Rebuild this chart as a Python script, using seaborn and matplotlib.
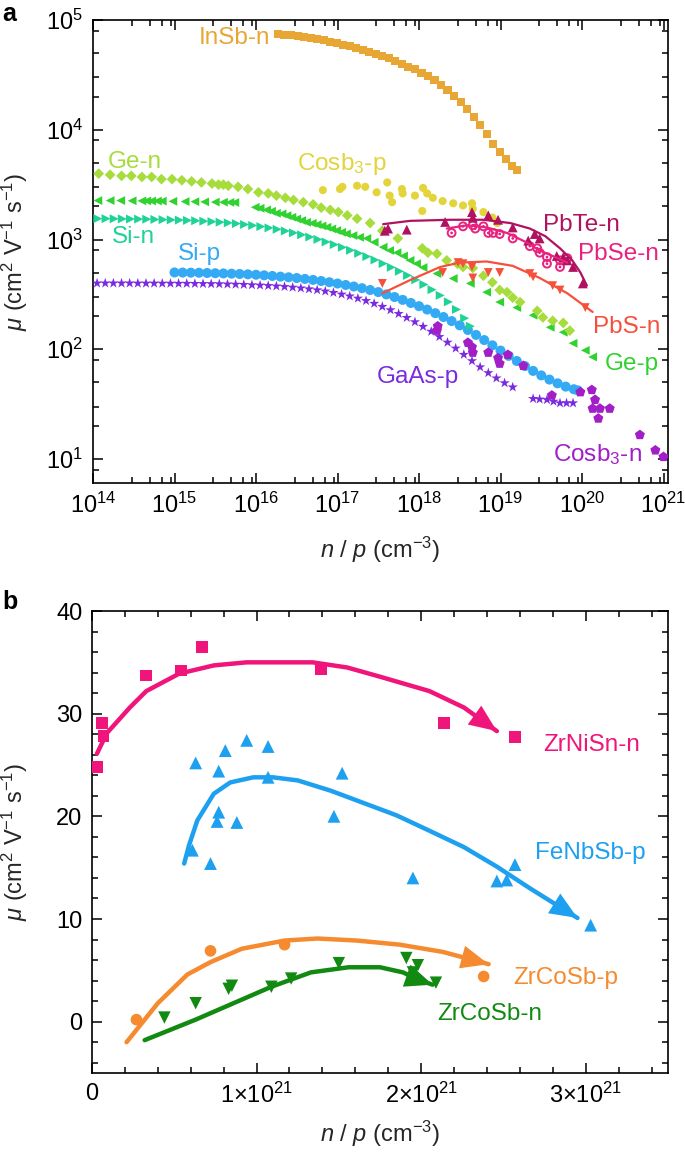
import numpy as np
import matplotlib
matplotlib.use("Agg")
import matplotlib.pyplot as plt
import seaborn as sns
from matplotlib.ticker import LogLocator, FixedLocator, MultipleLocator, FuncFormatter, NullFormatter

# ---------------- Panel a data (log10 n, log10 mu) ----------------
insb_logn = [16.27, 16.35, 16.43, 16.51, 16.59, 16.67, 16.75, 16.83, 16.91, 16.99, 17.07, 17.15, 17.23,
             17.31, 17.39, 17.47, 17.55, 17.63, 17.71, 17.79, 17.87, 17.95, 18.03, 18.11, 18.19, 18.27,
             18.35, 18.43, 18.51, 18.59, 18.67, 18.75, 18.83, 18.91, 18.99, 19.07, 19.14, 19.20]
insb_logmu = [4.870, 4.865, 4.860, 4.855, 4.845, 4.835, 4.825, 4.815, 4.800, 4.790, 4.775, 4.760, 4.745,
              4.730, 4.710, 4.690, 4.670, 4.650, 4.630, 4.600, 4.575, 4.550, 4.520, 4.490, 4.450, 4.410,
              4.360, 4.310, 4.250, 4.190, 4.120, 4.040, 3.960, 3.870, 3.800, 3.730, 3.670, 3.630]

gen_logn = [14.07, 14.21, 14.35, 14.47, 14.60, 14.72, 14.84, 14.97, 15.09, 15.21,
            15.33, 15.46, 15.54, 15.60, 15.66, 15.78, 15.90, 16.03, 16.15, 16.25,
            16.36, 16.46, 16.58, 16.70, 16.80, 16.91, 17.01, 17.12, 17.24, 17.40,
            17.55, 17.74, 18.04, 18.11, 18.22, 18.34, 18.47, 18.54, 18.66, 18.79,
            18.90, 18.99, 19.08, 19.15, 19.24, 19.45, 19.52, 19.64, 19.77, 19.85]
gen_logmu = [3.60, 3.59, 3.58, 3.58, 3.57, 3.57, 3.55, 3.55, 3.54, 3.53,
             3.52, 3.51, 3.50, 3.50, 3.49, 3.48, 3.46, 3.43, 3.42, 3.40,
             3.38, 3.36, 3.34, 3.32, 3.29, 3.27, 3.25, 3.22, 3.19, 3.15,
             3.08, 3.01, 2.92, 2.88, 2.87, 2.81, 2.78, 2.75, 2.74, 2.67,
             2.61, 2.54, 2.52, 2.47, 2.43, 2.35, 2.29, 2.26, 2.24, 2.17]

gep_logn = [14.06, 14.21, 14.34, 14.48, 14.60, 14.66, 14.72, 14.79, 14.85, 14.98, 15.13, 15.25, 15.37,
            15.50, 15.60, 15.68, 15.74,
            15.99, 16.05, 16.13, 16.19, 16.25, 16.32, 16.38, 16.44, 16.50, 16.56, 16.62, 16.69, 16.75,
            16.81, 16.87, 16.93, 16.99, 17.05, 17.11,
            17.19, 17.27, 17.36, 17.45, 17.56, 17.64, 17.73, 17.81, 17.89, 17.97, 18.05, 18.22, 18.42,
            18.63, 18.83, 18.99, 19.20, 19.40, 19.61, 19.77, 19.89, 20.04, 20.13]
gep_logmu = [3.355, 3.355, 3.355, 3.353, 3.352, 3.352, 3.351, 3.351, 3.350, 3.348, 3.346, 3.345, 3.343,
             3.341, 3.340, 3.338, 3.337,
             3.294, 3.285, 3.270, 3.257, 3.239, 3.234, 3.218, 3.203, 3.188, 3.173, 3.157, 3.148, 3.136,
             3.124, 3.112, 3.097, 3.082, 3.066, 3.052,
             3.036, 3.020, 3.010, 2.975, 2.930, 2.900, 2.880, 2.850, 2.810, 2.780, 2.745, 2.690, 2.645,
             2.600, 2.520, 2.430, 2.380, 2.310, 2.200, 2.155, 2.055, 1.990, 1.930]

sin_logn = [14.06, 14.16, 14.26, 14.36, 14.46, 14.56, 14.66, 14.76, 14.86, 14.96, 15.06, 15.16, 15.26,
            15.36, 15.46, 15.56, 15.66, 15.76, 15.86, 15.96, 16.06, 16.16, 16.26, 16.36, 16.46, 16.56,
            16.66, 16.76, 16.86, 16.96, 17.06, 17.16, 17.26, 17.36, 17.46, 17.56, 17.66, 17.76, 17.86,
            17.96, 18.06, 18.16, 18.26, 18.36, 18.46, 18.56, 18.63]
sin_logmu = [3.190, 3.190, 3.189, 3.188, 3.187, 3.186, 3.185, 3.183, 3.181, 3.179, 3.177, 3.174, 3.171,
             3.167, 3.163, 3.158, 3.152, 3.145, 3.137, 3.128, 3.118, 3.106, 3.093, 3.078, 3.061, 3.043,
             3.023, 3.001, 2.978, 2.954, 2.929, 2.902, 2.874, 2.845, 2.814, 2.781, 2.747, 2.711, 2.673,
             2.633, 2.590, 2.543, 2.491, 2.432, 2.363, 2.283, 2.210]

sip_logn = [15.0, 15.1, 15.2, 15.3, 15.4, 15.5, 15.6, 15.7, 15.8, 15.9, 16.0, 16.1, 16.2, 16.3, 16.4,
            16.5, 16.6, 16.7, 16.8, 16.9, 17.0, 17.1, 17.2, 17.3, 17.4, 17.5, 17.6, 17.7, 17.8, 17.9,
            18.0, 18.1, 18.2, 18.3, 18.4, 18.5, 18.6, 18.7, 18.8, 18.9, 19.0, 19.1, 19.2, 19.3, 19.4,
            19.5, 19.6, 19.7, 19.8, 19.9, 19.95]
sip_logmu = [2.700, 2.699, 2.698, 2.697, 2.695, 2.693, 2.691, 2.689, 2.686, 2.683, 2.679, 2.674, 2.668,
             2.662, 2.656, 2.649, 2.641, 2.632, 2.622, 2.611, 2.599, 2.586, 2.572, 2.557, 2.540, 2.521,
             2.500, 2.476, 2.450, 2.422, 2.393, 2.362, 2.329, 2.294, 2.257, 2.218, 2.176, 2.131, 2.084,
             2.036, 1.988, 1.940, 1.893, 1.847, 1.803, 1.762, 1.724, 1.690, 1.660, 1.636, 1.625]

gaas_logn = [14.05, 14.15, 14.25, 14.35, 14.45, 14.55, 14.65, 14.75, 14.85, 14.95, 15.05, 15.15, 15.25,
             15.35, 15.45, 15.55, 15.65, 15.75, 15.85, 15.95, 16.05, 16.15, 16.25, 16.35, 16.45, 16.55,
             16.65, 16.75, 16.85, 16.95, 17.05, 17.15, 17.25, 17.35, 17.45, 17.55, 17.65, 17.75, 17.85,
             17.95, 18.05, 18.15, 18.25, 18.35, 18.45, 18.55, 18.65, 18.75, 18.85, 18.95, 19.05, 19.15,
             19.40, 19.48, 19.57, 19.65, 19.73, 19.81, 19.89]
gaas_logmu = [2.602, 2.602, 2.602, 2.602, 2.602, 2.601, 2.601, 2.601, 2.600, 2.600, 2.599, 2.599, 2.598,
              2.597, 2.596, 2.595, 2.593, 2.591, 2.589, 2.586, 2.583, 2.579, 2.575, 2.570, 2.564, 2.557,
              2.549, 2.540, 2.529, 2.516, 2.501, 2.484, 2.464, 2.442, 2.417, 2.389, 2.358, 2.324, 2.288,
              2.249, 2.207, 2.162, 2.114, 2.063, 2.009, 1.952, 1.894, 1.838, 1.785, 1.737, 1.693, 1.655,
              1.550, 1.545, 1.540, 1.525, 1.510, 1.510, 1.510]

cosbp_logn = [16.82, 17.03, 17.06, 17.24, 17.34, 17.48, 17.61, 17.64, 17.67, 17.79, 17.80, 17.95,
              18.04, 18.05, 18.10, 18.17, 18.29, 18.42, 18.54, 18.65, 18.66, 18.79, 18.90, 18.96]
cosbp_logmu = [3.45, 3.46, 3.48, 3.49, 3.48, 3.43, 3.52, 3.40, 3.34, 3.46, 3.42, 3.40,
               3.26, 3.47, 3.42, 3.38, 3.35, 3.33, 3.31, 3.33, 3.28, 3.25, 3.20, 3.15]

pbte_logn = [17.58, 17.62, 17.85, 18.32, 18.65, 18.66, 18.85, 18.97, 19.15, 19.34, 19.42, 19.48,
             19.69, 19.77, 19.82, 19.89, 20.01]
pbte_logmu = [3.08, 3.10, 3.09, 3.16, 3.25, 3.20, 3.22, 3.18, 3.11, 2.99, 3.05, 3.01,
              2.85, 2.84, 2.81, 2.75, 2.60]
pbte_fit_logn = [17.56, 17.89, 18.38, 18.79, 19.12, 19.36, 19.55, 19.73, 19.88, 19.98, 20.06]
pbte_fit_logmu = [3.14, 3.17, 3.18, 3.18, 3.15, 3.10, 3.03, 2.92, 2.81, 2.70, 2.58]

pbse_logn = [18.40, 18.54, 18.66, 18.69, 18.79, 18.85, 18.91, 18.99, 19.15, 19.36, 19.45, 19.48,
             19.57, 19.57, 19.73, 19.73, 19.82]
pbse_logmu = [3.06, 3.12, 3.13, 3.10, 3.12, 3.06, 3.06, 3.05, 3.01, 2.94, 2.92, 2.88,
              2.84, 2.78, 2.81, 2.75, 2.83]
pbse_fit_logn = [18.34, 18.59, 18.83, 19.08, 19.33, 19.48, 19.64, 19.82]
pbse_fit_logmu = [3.10, 3.13, 3.11, 3.06, 2.97, 2.90, 2.85, 2.79]

pbs_logn = [17.55, 18.29, 18.48, 18.54, 18.65, 18.66, 18.85, 18.99, 19.36, 19.40, 19.64, 19.73, 20.04]
pbs_logmu = [2.60, 2.70, 2.79, 2.78, 2.75, 2.65, 2.70, 2.70, 2.69, 2.66, 2.58, 2.54, 2.38]
pbs_fit_logn = [17.55, 17.89, 18.26, 18.50, 18.83, 19.15, 19.48, 19.82, 20.13]
pbs_fit_logmu = [2.51, 2.63, 2.75, 2.79, 2.80, 2.76, 2.65, 2.51, 2.34]

cosbn_logn = [18.22, 18.23, 18.60, 18.65, 18.66, 18.85, 18.97, 18.99, 19.09, 19.28, 19.63, 19.98,
              20.12, 20.16, 20.13, 20.22, 20.34, 20.20, 20.71, 20.90, 21.00]
cosbn_logmu = [2.17, 2.21, 2.06, 2.02, 1.97, 1.97, 1.92, 1.87, 1.95, 1.85, 1.58, 1.61,
               1.63, 1.54, 1.46, 1.46, 1.46, 1.37, 1.22, 1.08, 1.02]

# ---------------- Panel b data (n in 1e21 cm^-3, mu) ----------------
zrnisn_n = [0.03, 0.06, 0.07, 0.33, 0.54, 0.67, 1.39, 2.14, 2.57]
zrnisn_mu = [24.8, 29.1, 27.8, 33.7, 34.2, 36.5, 34.3, 29.1, 27.7]
zrnisn_fit_n = [0.03, 0.09, 0.23, 0.33, 0.53, 0.74, 0.94, 1.10, 1.34, 1.55, 1.75, 2.05, 2.26, 2.46]
zrnisn_fit_mu = [26.1, 28.1, 30.6, 32.2, 33.9, 34.7, 35.0, 35.0, 35.0, 34.5, 33.6, 32.2, 30.6, 28.3]

fenbsb_n = [0.61, 0.72, 0.63, 0.77, 0.81, 0.94, 1.07, 1.07, 0.77, 0.76, 0.88, 1.47, 1.52, 1.95,
            2.46, 2.52, 2.57, 3.03]
fenbsb_mu = [16.7, 15.4, 25.2, 24.4, 26.4, 27.4, 26.8, 23.8, 20.4, 19.5, 19.4, 20.0, 24.2, 14.0,
             13.7, 13.8, 15.3, 9.4]
fenbsb_fit_n = [0.56, 0.59, 0.64, 0.74, 0.84, 0.98, 1.10, 1.25, 1.45, 1.65, 1.85, 2.05, 2.26, 2.46,
                2.66, 2.95]
fenbsb_fit_mu = [15.4, 17.2, 19.6, 22.2, 23.3, 23.8, 23.8, 23.5, 22.5, 21.3, 20.1, 18.6, 17.0, 15.1,
                 13.0, 10.1]

zrcosbp_n = [0.27, 0.72, 1.17, 2.38]
zrcosbp_mu = [0.2, 6.9, 7.5, 4.4]
zrcosbp_fit_n = [0.21, 0.40, 0.58, 0.72, 0.91, 1.17, 1.37, 1.61, 1.87, 2.13, 2.41]
zrcosbp_fit_mu = [-2.0, 1.8, 4.6, 5.8, 7.1, 7.9, 8.1, 7.9, 7.5, 6.8, 5.6]

zrcosbn_n = [0.44, 0.63, 0.83, 0.85, 1.09, 1.21, 1.50, 1.91, 1.98, 1.95, 2.09]
zrcosbn_mu = [0.4, 1.8, 3.2, 3.5, 3.4, 4.2, 5.7, 6.2, 5.5, 4.8, 3.8]
zrcosbn_fit_n = [0.32, 0.63, 0.86, 1.09, 1.33, 1.56, 1.75, 1.89, 1.98, 2.07]
zrcosbn_fit_mu = [-1.8, 0.2, 1.8, 3.4, 4.8, 5.3, 5.3, 4.8, 4.1, 3.6]

a_xticks = [1e14, 1e15, 1e16, 1e17, 1e18, 1e19, 1e20, 1e21]
b_xticks = [0, 1, 2, 3]
b_yticks = [0, 10, 20, 30, 40]

# ---------------- colours ----------------
C_INSB = "#E8A634"
C_GEN = "#A6DC3C"
C_GEP = "#2FD22F"
C_SIN = "#1FD394"
C_SIP = "#34A9F4"
C_GAAS = "#7A2BE0"
C_COSBP = "#E3D43C"
C_PBTE = "#B0125F"
C_PBSE = "#E8227E"
C_PBS = "#F5503C"
C_COSBN = "#A21FC8"
C_ZRNISN = "#F0157A"
C_FENBSB = "#1EA0F0"
C_ZRCOSBP = "#F58A2E"
C_ZRCOSBN = "#128A12"

sns.set_theme(style="ticks")
plt.rcParams.update({
    "font.family": ["Liberation Sans", "DejaVu Sans"],
    "mathtext.fontset": "custom",
    "mathtext.rm": "Liberation Sans",
    "mathtext.it": "Liberation Sans:italic",
    "mathtext.bf": "Liberation Sans:bold",
    "axes.edgecolor": "black",
    "axes.linewidth": 1.2,
    "text.color": "black",
    "xtick.color": "black",
    "ytick.color": "black",
})

TICK_FS = 17
LAB_FS = 17
ANN_FS = 17.5

fig = plt.figure(figsize=(6.85, 11.54), dpi=100)
axa = fig.add_axes([93 / 685, 1 - 483 / 1154, 575 / 685, 463 / 1154])
axb = fig.add_axes([92 / 685, 1 - 1073 / 1154, 576 / 685, 462 / 1154])

axa.set_xscale("log")
axa.set_yscale("log")


def pts_log(ax, lx, ly, marker, color, s, **kw):
    x = np.power(10.0, np.array(lx))
    y = np.power(10.0, np.array(ly))
    kw.setdefault("edgecolor", "none")
    kw.setdefault("linewidth", 0)
    sns.scatterplot(x=x, y=y, ax=ax, marker=marker, s=s, color=color, legend=False, zorder=3, **kw)


def line_log(ax, lx, ly, color, lw=1.6):
    x = np.power(10.0, np.array(lx))
    y = np.power(10.0, np.array(ly))
    sns.lineplot(x=x, y=y, ax=ax, color=color, lw=lw, sort=False, estimator=None, zorder=4)


# panel a series
pts_log(axa, gaas_logn, gaas_logmu, "*", C_GAAS, 60)
pts_log(axa, sip_logn, sip_logmu, "o", C_SIP, 52)
pts_log(axa, sin_logn, sin_logmu, ">", C_SIN, 42)
pts_log(axa, gep_logn, gep_logmu, "<", C_GEP, 40)
pts_log(axa, gen_logn, gen_logmu, "D", C_GEN, 30)
pts_log(axa, cosbp_logn, cosbp_logmu, "o", C_COSBP, 34)
pts_log(axa, cosbn_logn, cosbn_logmu, "p", C_COSBN, 58)
line_log(axa, pbs_fit_logn, pbs_fit_logmu, C_PBS)
pts_log(axa, pbs_logn, pbs_logmu, "v", C_PBS, 40)
line_log(axa, pbse_fit_logn, pbse_fit_logmu, C_PBSE)
pts_log(axa, pbse_logn, pbse_logmu, "o", C_PBSE, 32, facecolors="none", edgecolor=C_PBSE, linewidth=1.4)
pts_log(axa, pbse_logn, pbse_logmu, "o", C_PBSE, 4)
line_log(axa, pbte_fit_logn, pbte_fit_logmu, C_PBTE)
pts_log(axa, pbte_logn, pbte_logmu, "^", C_PBTE, 50)
pts_log(axa, insb_logn, insb_logmu, "s", C_INSB, 34)

axa.set_xlim(1e14, 10 ** 21.055)
axa.set_ylim(6.05, 1e5)
axa.xaxis.set_major_locator(FixedLocator(a_xticks))
axa.xaxis.set_minor_locator(LogLocator(base=10, subs=(3, 5, 7, 9), numticks=30))
axa.yaxis.set_major_locator(LogLocator(base=10, numticks=10))
axa.yaxis.set_minor_locator(LogLocator(base=10, subs=(2, 3, 5, 8), numticks=30))
axa.xaxis.set_minor_formatter(NullFormatter())
axa.yaxis.set_minor_formatter(NullFormatter())

ann_a = [
    ("InSb-n", 16.17, 4.84, C_INSB, "right"),
    ("Ge-n", 14.18, 3.71, C_GEN, "left"),
    (r"Cosb$_3$-p", 16.50, 3.69, C_COSBP, "left"),
    ("Si-n", 14.23, 3.02, C_SIN, "left"),
    ("Si-p", 15.04, 2.87, C_SIP, "left"),
    ("PbTe-n", 19.52, 3.13, C_PBTE, "left"),
    ("PbSe-n", 19.95, 2.87, C_PBSE, "left"),
    ("PbS-n", 20.13, 2.20, C_PBS, "left"),
    ("Ge-p", 20.28, 1.87, C_GEP, "left"),
    ("GaAs-p", 17.48, 1.75, C_GAAS, "left"),
    (r"Cosb$_3$-n", 19.64, 1.04, C_COSBN, "left"),
]
for t, lx, ly, c, ha in ann_a:
    axa.text(10 ** lx, 10 ** ly, t, color=c, fontsize=ANN_FS, ha=ha, va="center", zorder=6)

# panel b series
def pts_lin(ax, n, mu, marker, color, s):
    sns.scatterplot(x=np.array(n) * 1e21, y=mu, ax=ax, marker=marker, s=s, color=color,
                    edgecolor="none", linewidth=0, legend=False, zorder=3)


def arrow_line(ax, n, mu, color):
    x = np.array(n) * 1e21
    sns.lineplot(x=x, y=mu, ax=ax, color=color, lw=3.2, sort=False, estimator=None, zorder=4)
    ax.annotate("", xy=(x[-1], mu[-1]), xytext=(x[-2], mu[-2]),
                arrowprops=dict(arrowstyle="-|>,head_length=0.9,head_width=0.38", color=color,
                                lw=0, mutation_scale=22, shrinkA=0, shrinkB=0), zorder=5)


pts_lin(axb, zrnisn_n, zrnisn_mu, "s", C_ZRNISN, 70)
arrow_line(axb, zrnisn_fit_n, zrnisn_fit_mu, C_ZRNISN)
pts_lin(axb, fenbsb_n, fenbsb_mu, "^", C_FENBSB, 85)
arrow_line(axb, fenbsb_fit_n, fenbsb_fit_mu, C_FENBSB)
pts_lin(axb, zrcosbp_n, zrcosbp_mu, "o", C_ZRCOSBP, 70)
arrow_line(axb, zrcosbp_fit_n, zrcosbp_fit_mu, C_ZRCOSBP)
pts_lin(axb, zrcosbn_n, zrcosbn_mu, "v", C_ZRCOSBN, 80)
arrow_line(axb, zrcosbn_fit_n, zrcosbn_fit_mu, C_ZRCOSBN)

axb.set_xlim(0, 3.5e21)
axb.set_ylim(-5, 40)
axb.xaxis.set_major_locator(FixedLocator([v * 1e21 for v in b_xticks]))
axb.xaxis.set_minor_locator(MultipleLocator(0.2e21))
axb.yaxis.set_major_locator(FixedLocator(b_yticks))
axb.yaxis.set_minor_locator(MultipleLocator(2))


def bfmt(v, pos):
    k = int(round(v / 1e21))
    if k == 0:
        return "0"
    return r"$\mathdefault{%d{\times}10^{21}}$" % k


axb.xaxis.set_major_formatter(FuncFormatter(bfmt))

ann_b = [
    ("ZrNiSn-n", 2.74, 26.9, C_ZRNISN),
    ("FeNbSb-p", 2.69, 16.4, C_FENBSB),
    ("ZrCoSb-p", 2.56, 4.3, C_ZRCOSBP),
    ("ZrCoSb-n", 2.10, 0.7, C_ZRCOSBN),
]
for t, n, mu, c in ann_b:
    axb.text(n * 1e21, mu, t, color=c, fontsize=ANN_FS, ha="left", va="center", zorder=6)

for ax in (axa, axb):
    ax.tick_params(which="both", direction="in", top=True, right=True, width=1.1,
                   labelsize=TICK_FS, pad=7)
    ax.tick_params(which="major", length=7)
    ax.tick_params(which="minor", length=4)
    for sp in ax.spines.values():
        sp.set_linewidth(1.2)
        sp.set_visible(True)
    ax.set_xlabel(r"$n$ / $p$ (cm$^{-3}$)", fontsize=LAB_FS)
    ax.set_ylabel(r"$\mu$ (cm$^{2}$ V$^{-1}$ s$^{-1}$)", fontsize=LAB_FS)

axa.yaxis.set_label_coords(-0.11, 0.5)
axa.xaxis.set_label_coords(0.5, -0.112)
axb.yaxis.set_label_coords(-0.108, 0.5)
axb.xaxis.set_label_coords(0.5, -0.100)

fig.text(0.004, 1 - 2 / 1154, "a", fontsize=18, fontweight="bold", va="top", ha="left")
fig.text(0.004, 1 - 590 / 1154, "b", fontsize=18, fontweight="bold", va="top", ha="left")

fig.savefig("out.png", dpi=100)
